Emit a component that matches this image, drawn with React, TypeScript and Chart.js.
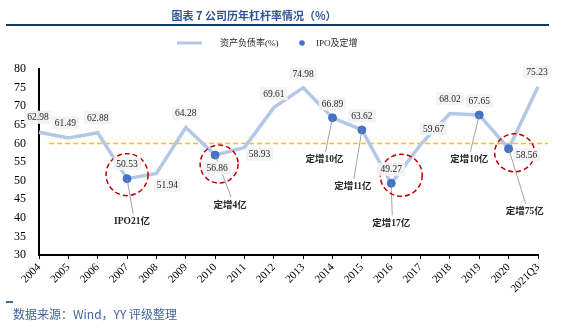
import React, { useEffect, useRef } from 'react';
import { Chart, registerables } from 'chart.js';

Chart.register(...registerables);

// ---------- data ----------
const years = ['2004', '2005', '2006', '2007', '2008', '2009', '2010', '2011', '2012', '2013', '2014', '2015', '2016', '2017', '2018', '2019', '2020', '2021Q3'];
const debtRatio = [62.98, 61.49, 62.88, 50.53, 51.94, 64.28, 56.86, 58.93, 69.61, 74.98, 66.89, 63.62, 49.27, 59.67, 68.02, 67.65, 58.56, 75.23];
const ipoValues: (number | null)[] = [null, null, null, 50.53, null, null, 56.86, null, null, null, 66.89, 63.62, 49.27, null, null, 67.65, 58.56, null];
const ipoNotes = ['', '', '', 'IPO21亿', '', '', '定增4亿', '', '', '', '定增10亿', '定增11亿', '定增17亿', '', '', '定增10亿', '定增75亿', ''];
const circledIdx = [3, 6, 12, 16];
const thresholdValue = 60;
const yMin = 30;
const yMax = 80;
const yStep = 5;

const titleText = '图表 7 公司历年杠杆率情况（%）';
const seriesName = '资产负债率(%)';
const ipoName = 'IPO及定增';
const sourceText = '数据来源：Wind，YY 评级整理';

// ---------- layout (pixel offsets relative to marks) ----------
const valueLabelOffsets: [number, number][] = [
  [-1, -15], [-3, -15], [0, -15], [0, -15], [11, 12], [0, -14], [2, 13], [15, 7], [0, -14],
  [0, -14], [0, -14], [0, -14], [0, -14], [13, -16], [0, -15], [0, -14], [18, 6], [-1, -15],
];
const noteOffsets: Record<number, [number, number]> = {
  3: [5, 43], 6: [15, 50], 10: [-8, 42], 11: [-9, 57], 12: [0, 40], 15: [-10, 45], 16: [16, 63],
};
const circleOffsets: Record<number, [number, number, number, number]> = {
  3: [0, -4, 21, 21], 6: [4, 9, 19, 19], 12: [10, -8, 21, 21], 16: [6, 4, 20, 19],
};

const SERIF = "'Times New Roman', 'Liberation Serif', 'Noto Sans CJK SC', serif";
const LINE_COLOR = '#B4C7E7';
const DOT_COLOR = '#4472C4';

const overlayPlugin = {
  id: 'overlay',
  beforeDatasetsDraw(chart: any) {
    const { ctx, chartArea, scales } = chart;
    const y = scales.y.getPixelForValue(thresholdValue);
    ctx.save();
    ctx.strokeStyle = '#FFC000';
    ctx.lineWidth = 1.5;
    ctx.setLineDash([5, 3]);
    ctx.beginPath();
    ctx.moveTo(chartArea.left + 10, y);
    ctx.lineTo(chartArea.right + 10, y);
    ctx.stroke();
    ctx.restore();
  },
  afterDatasetsDraw(chart: any) {
    const { ctx, scales } = chart;
    const xs = scales.x;
    const ys = scales.y;
    ctx.save();
    // leader lines and notes
    ipoValues.forEach((v, i) => {
      if (v == null || !ipoNotes[i]) return;
      const px = xs.getPixelForValue(i);
      const py = ys.getPixelForValue(v);
      const [ox, oy] = noteOffsets[i];
      const tx = px + ox;
      const ty = py + oy;
      ctx.strokeStyle = '#8C8C8C';
      ctx.lineWidth = 0.8;
      ctx.setLineDash([]);
      ctx.beginPath();
      ctx.moveTo(px, py);
      ctx.lineTo(tx + 1, ty - 8);
      ctx.stroke();
      ctx.fillStyle = '#262626';
      ctx.font = `bold 9.5px ${SERIF}`;
      ctx.textAlign = 'center';
      ctx.textBaseline = 'middle';
      ctx.fillText(ipoNotes[i], tx, ty);
    });
    // circles
    circledIdx.forEach((i) => {
      const px = xs.getPixelForValue(i);
      const py = ys.getPixelForValue(debtRatio[i]);
      const [ox, oy, rx, ry] = circleOffsets[i];
      ctx.strokeStyle = '#C00000';
      ctx.lineWidth = 1.5;
      ctx.setLineDash([5, 3]);
      ctx.beginPath();
      ctx.ellipse(px + ox, py + oy, rx, ry, 0, 0, Math.PI * 2);
      ctx.stroke();
    });
    ctx.setLineDash([]);
    // value labels
    ctx.font = `9.5px ${SERIF}`;
    ctx.textAlign = 'center';
    ctx.textBaseline = 'middle';
    debtRatio.forEach((v, i) => {
      const px = xs.getPixelForValue(i);
      const py = ys.getPixelForValue(v);
      const [ox, oy] = valueLabelOffsets[i];
      const text = v.toFixed(2);
      const w = ctx.measureText(text).width + 6;
      const h = 13;
      ctx.fillStyle = 'rgba(242,242,242,0.95)';
      ctx.fillRect(px + ox - w / 2, py + oy - h / 2, w, h);
      ctx.fillStyle = '#262626';
      ctx.fillText(text, px + ox, py + oy + 0.5);
    });
    ctx.restore();
  },
  afterDraw(chart: any) {
    const { ctx } = chart;
    ctx.save();
    // title
    ctx.fillStyle = '#2F5597';
    ctx.font = "bold 11px 'Noto Sans CJK SC', sans-serif";
    ctx.textAlign = 'center';
    ctx.textBaseline = 'middle';
    ctx.fillText(titleText, 254, 16);
    ctx.strokeStyle = '#0E3A66';
    ctx.lineWidth = 2;
    ctx.beginPath();
    ctx.moveTo(6, 25);
    ctx.lineTo(549, 25);
    ctx.stroke();
    // legend
    ctx.strokeStyle = LINE_COLOR;
    ctx.lineWidth = 3;
    ctx.beginPath();
    ctx.moveTo(177, 43);
    ctx.lineTo(202, 43);
    ctx.stroke();
    ctx.fillStyle = '#262626';
    ctx.font = `9px ${SERIF}`;
    ctx.textAlign = 'left';
    ctx.fillText(seriesName, 220, 43.5);
    ctx.fillStyle = DOT_COLOR;
    ctx.beginPath();
    ctx.arc(302, 43, 2.8, 0, Math.PI * 2);
    ctx.fill();
    ctx.fillStyle = '#262626';
    ctx.fillText(ipoName, 316, 43.5);
    // footer
    ctx.strokeStyle = '#0E3A66';
    ctx.lineWidth = 1.5;
    ctx.beginPath();
    ctx.moveTo(6, 302);
    ctx.lineTo(13, 302);
    ctx.stroke();
    ctx.fillStyle = '#3F62A0';
    ctx.font = "12px 'Noto Sans CJK SC', sans-serif";
    ctx.fillText(sourceText, 13, 314);
    ctx.restore();
  },
};

export default function App() {
  const ref = useRef<HTMLCanvasElement | null>(null);
  useEffect(() => {
    document.body.style.margin = '0';
    const canvas = ref.current!;
    const chart = new Chart(canvas, {
      type: 'line',
      data: {
        labels: years,
        datasets: [
          {
            label: ipoName,
            data: ipoValues,
            showLine: false,
            pointRadius: 4,
            pointHoverRadius: 4,
            pointBackgroundColor: DOT_COLOR,
            pointBorderColor: DOT_COLOR,
            backgroundColor: DOT_COLOR,
            borderColor: DOT_COLOR,
            order: 0,
          },
          {
            label: seriesName,
            data: debtRatio,
            borderColor: LINE_COLOR,
            backgroundColor: LINE_COLOR,
            borderWidth: 3.5,
            pointRadius: 0,
            tension: 0,
            order: 1,
          },
        ],
      },
      options: {
        animation: false,
        responsive: false,
        devicePixelRatio: 1,
        layout: { padding: { top: 69, right: 23, left: 0, bottom: 0 } },
        plugins: {
          legend: { display: false },
          title: { display: false },
          tooltip: { enabled: false },
        },
        scales: {
          x: {
            offset: false,
            afterFit: (s: any) => { s.height = 73; },
            grid: { display: true, drawOnChartArea: false, drawTicks: true, tickLength: 4, color: '#000', lineWidth: 1 },
            border: { display: true, color: '#000', width: 2 },
            ticks: {
              autoSkip: false,
              maxRotation: 45,
              minRotation: 45,
              padding: 2,
              color: '#000',
              font: { family: SERIF, size: 11 },
            },
          },
          y: {
            min: yMin,
            max: yMax,
            afterFit: (s: any) => { s.width = 39; },
            grid: { display: false, drawTicks: false },
            border: { display: true, color: '#000', width: 2 },
            ticks: {
              stepSize: yStep,
              padding: 13,
              color: '#000',
              font: { family: SERIF, size: 12 },
            },
          },
        },
      },
      plugins: [overlayPlugin],
    });
    return () => chart.destroy();
  }, []);
  return <canvas ref={ref} width={561} height={328} style={{ display: 'block', width: 561, height: 328 }} />;
}
